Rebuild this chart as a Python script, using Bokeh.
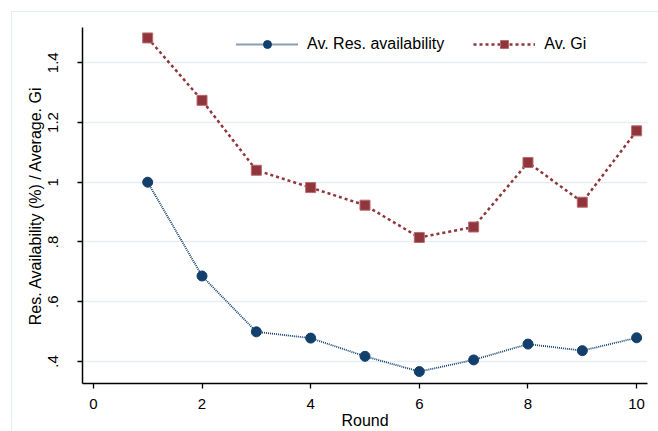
from bokeh.plotting import figure
from bokeh.models import Range1d, FixedTicker, CustomJSTickFormatter, Legend, LegendItem
from bokeh.embed import file_html
from bokeh.resources import INLINE

rounds = [1, 2, 3, 4, 5, 6, 7, 8, 9, 10]
res_avail = [1.0, 0.686, 0.499, 0.478, 0.417, 0.366, 0.405, 0.458, 0.436, 0.479]
avg_gi = [1.483, 1.274, 1.040, 0.982, 0.923, 0.815, 0.850, 1.066, 0.933, 1.172]
x_ticks = [0, 2, 4, 6, 8, 10]
y_ticks = [0.4, 0.6, 0.8, 1.0, 1.2, 1.4]

NAVY = "#123f6c"
MAROON = "#90353b"
GRID = "#e6eef1"
FONT = "Liberation Sans"

p = figure(width=658, height=431, output_backend="svg", toolbar_location=None,
           x_range=Range1d(-0.2, 10.2), y_range=Range1d(0.326, 1.518),
           min_border_left=82, min_border_top=27, min_border_right=11, min_border_bottom=43)
p.border_fill_alpha = 0
p.background_fill_color = "white"
p.outline_line_color = None
p.styles = {
    "background-image": f"linear-gradient({GRID},{GRID}), linear-gradient({GRID},{GRID})",
    "background-size": "1px 100%, 100% 1px",
    "background-position": "11px 11px, 11px 11px",
    "background-repeat": "no-repeat",
}

l1 = p.line(rounds, res_avail, line_color=NAVY, line_width=1.8, line_dash="1 1")
s1 = p.scatter(rounds, res_avail, marker="circle", size=10, fill_color=NAVY, line_color=NAVY)
l2 = p.line(rounds, avg_gi, line_color=MAROON, line_width=2.5, line_dash="3 3")
s2 = p.scatter(rounds, avg_gi, marker="square", size=10, fill_color=MAROON, line_color="#b86a6e", line_width=1)

legend = Legend(items=[LegendItem(label="Av. Res. availability", renderers=[l1, s1]),
                       LegendItem(label="Av. Gi", renderers=[l2, s2])],
                orientation="horizontal", location=(154, 329),
                glyph_width=62, glyph_height=20, label_standoff=9, spacing=29,
                padding=0, margin=0, border_line_color=None, background_fill_alpha=0,
                label_text_font=FONT, label_text_font_size="16px", label_text_color="black")
p.add_layout(legend)

p.xgrid.grid_line_color = None
p.ygrid.grid_line_color = GRID
p.ygrid.grid_line_width = 1.5

p.xaxis.ticker = FixedTicker(ticks=x_ticks)
p.yaxis.ticker = FixedTicker(ticks=y_ticks)
p.yaxis.formatter = CustomJSTickFormatter(code="""
var s = tick.toFixed(1);
if (s.endsWith('.0')) s = s.slice(0, -2);
if (s.startsWith('0.')) s = s.slice(1);
return s;
""")
p.yaxis.major_label_orientation = "vertical"

for ax in (p.xaxis[0], p.yaxis[0]):
    ax.axis_line_color = "black"
    ax.axis_line_width = 1.5
    ax.major_tick_line_color = "black"
    ax.major_tick_line_width = 1.3
    ax.major_tick_out = 5
    ax.major_tick_in = 0
    ax.minor_tick_line_color = None
    ax.major_label_text_font = FONT
    ax.major_label_text_font_size = "15px"
    ax.major_label_text_color = "black"
    ax.axis_label_text_font = FONT
    ax.axis_label_text_font_size = "16px"
    ax.axis_label_text_font_style = "normal"
    ax.axis_label_text_color = "black"

p.xaxis.axis_label = "Round"
p.yaxis.axis_label = "Res. Availability (%) / Average. Gi"
p.xaxis.major_label_standoff = 10
p.xaxis.axis_label_standoff = 0
p.yaxis.major_label_standoff = 19
p.yaxis.axis_label_standoff = 2

open("out.html", "w").write(file_html(p, INLINE))
